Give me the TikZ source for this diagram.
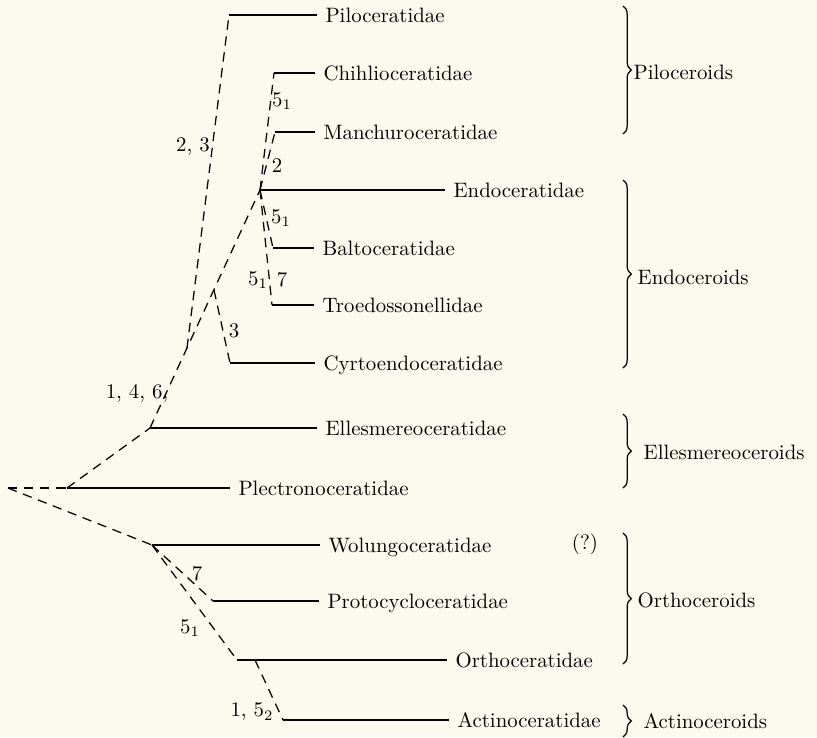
\documentclass[tikz,border=0pt]{standalone}
\usetikzlibrary{decorations.pathreplacing}
\definecolor{paper}{RGB}{252,249,238}
\begin{document}
\begin{tikzpicture}[x=0.48pt,y=-0.48pt,line width=0.6pt,
  taxon/.style={anchor=west,inner xsep=3.8pt,inner ysep=0pt,text height=6.8pt,text depth=0pt},
  branch/.style={dash pattern=on 4.5pt off 3.2pt},
  note/.style={inner sep=0pt},
  group/.style={decorate,decoration={brace,amplitude=4pt}},
  grouplabel/.style={anchor=west,inner sep=0pt}]
\fill[paper] (0,0) rectangle (817,737);
\useasboundingbox (0,0) rectangle (817,737);

\coordinate (root) at (8,488);
\coordinate (plectro) at (67,488);
\coordinate (elles) at (150,428);
\coordinate (wolung) at (152,545);
\coordinate (endo) at (260,190);
\coordinate (pilobase) at (187,348);
\coordinate (cyrtobase) at (214,290);
\coordinate (actinobase) at (255,660);

\coordinate (pilo) at (229,15);
\coordinate (chihli) at (274,73);
\coordinate (manchu) at (275,132);
\coordinate (balto) at (273,248);
\coordinate (troedo) at (272,305);
\coordinate (cyrto) at (230,363);
\coordinate (proto) at (213,601);
\coordinate (ortho) at (237,660);
\coordinate (actino) at (283,720);

\node[taxon] (piloT) at (317,15) {Piloceratidae};
\node[taxon] (chihliT) at (315,73) {Chihlioceratidae};
\node[taxon] (manchuT) at (315,132) {Manchuroceratidae};
\node[taxon] (endoT) at (445,190) {Endoceratidae};
\node[taxon] (baltoT) at (314,248) {Baltoceratidae};
\node[taxon] (troedoT) at (314,305) {Troedossonellidae};
\node[taxon] (cyrtoT) at (315,363) {Cyrtoendoceratidae};
\node[taxon] (ellesT) at (317,428) {Ellesmereoceratidae};
\node[taxon] (plectroT) at (230,488) {Plectronoceratidae};
\node[taxon] (wolungT) at (320,545) {Wolungoceratidae};
\node[taxon] (protoT) at (319,601) {Protocycloceratidae};
\node[taxon] (orthoT) at (447,660) {Orthoceratidae};
\node[taxon] (actinoT) at (449,720) {Actinoceratidae};

\draw (pilo)--(piloT);
\draw (chihli)--(chihliT);
\draw (manchu)--(manchuT);
\draw (endo)--(endoT);
\draw (balto)--(baltoT);
\draw (troedo)--(troedoT);
\draw (cyrto)--(cyrtoT);
\draw (elles)--(ellesT);
\draw (plectro)--(plectroT);
\draw (wolung)--(wolungT);
\draw (proto)--(protoT);
\draw (ortho)--(orthoT);
\draw (actino)--(actinoT);

\draw[branch] (root)--(plectro);
\draw[branch] (plectro)--(elles);
\draw[branch] (root)--(wolung);
\draw[branch] (elles)--(endo);
\draw[branch] (pilobase)--(pilo);
\draw[branch] (cyrtobase)--(cyrto);
\draw[branch] (endo)--(chihli);
\draw[branch] (endo)--(manchu);
\draw[branch] (endo)--(balto);
\draw[branch] (endo)--(troedo);
\draw[branch] (wolung)--(proto);
\draw[branch] (wolung)--(ortho);
\draw[branch] (actinobase)--(actino);

\node[note] (n23) at (193,147) {2, 3};
\node[note] (n146) at (137,393) {1, 4, 6,};
\node[note] (nchihli) at (282,101) {$5_1$};
\node[note] (nmanchu) at (277,166) {2};
\node[note] (nbalto) at (281,218) {$5_1$};
\node[note] (ntroedoL) at (258,280) {$5_1$};
\node[note] (ntroedoR) at (282,280) {7};
\node[note] (ncyrto) at (234,331) {3};
\node[note] (nproto) at (197,574) {7};
\node[note] (northo) at (190,628) {$5_1$};
\node[note] (nactino) at (252,712) {1, $5_2$};
\node[note] (query) at (585,544) {(?)};

\draw[group] (623,6)--(623,134);
\draw[group] (623,180)--(623,368);
\draw[group] (623,414)--(623,488);
\draw[group] (623,533)--(623,664);
\draw[group] (623,705)--(623,737);

\node[grouplabel] (piloG) at (633,72) {Piloceroids};
\node[grouplabel] (endoG) at (637,277) {Endoceroids};
\node[grouplabel] (ellesG) at (643,452) {Ellesmereoceroids};
\node[grouplabel] (orthoG) at (637,600) {Orthoceroids};
\node[grouplabel] (actinoG) at (643,721) {Actinoceroids};
\end{tikzpicture}
\end{document}
